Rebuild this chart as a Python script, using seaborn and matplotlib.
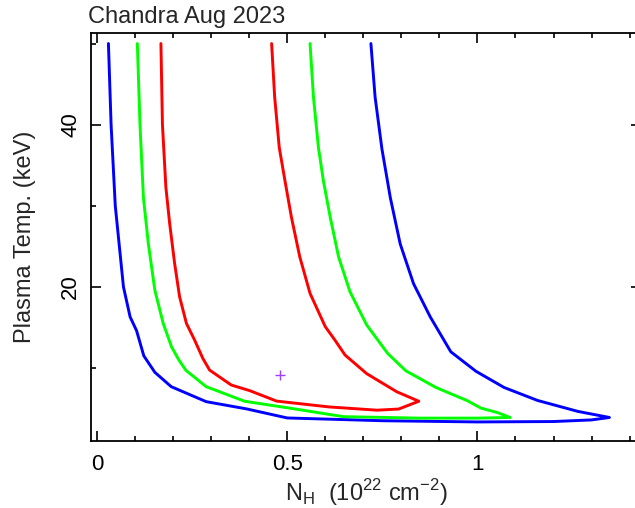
import numpy as np
import matplotlib
matplotlib.use("Agg")
from matplotlib import pyplot as plt
from matplotlib.ticker import MultipleLocator, FuncFormatter
import seaborn as sns

# contour curves (NH in 1e22 cm^-2, kT in keV)
red_x = [0.168, 0.172, 0.181, 0.191, 0.204, 0.217, 0.235, 0.257, 0.278, 0.296, 0.353, 0.402, 0.472,
         0.61, 0.736, 0.793, 0.846, 0.788, 0.709, 0.652, 0.626, 0.60, 0.56, 0.533, 0.511, 0.494,
         0.479, 0.467, 0.459]
red_y = [50, 40, 32.3, 27.8, 22.9, 18.8, 15.5, 13.4, 11.2, 9.74, 7.9, 7.2, 5.92,
         5.2, 4.8, 4.94, 5.9, 7.07, 9.3, 11.6, 13.4, 15.1, 19.2, 23.7, 28.6, 33.1,
         37.2, 43.4, 50]

green_x = [0.106, 0.113, 0.122, 0.135, 0.152, 0.174, 0.196, 0.215, 0.234, 0.287, 0.388, 0.5, 0.648,
           0.85, 1.0, 1.086, 1.053, 1.009, 0.974, 0.891, 0.812, 0.764, 0.709, 0.665, 0.635, 0.613,
           0.595, 0.582, 0.569, 0.56]
green_y = [50, 40, 31, 25.3, 19.6, 15.5, 12.6, 11.0, 9.7, 7.7, 5.9, 5.1, 4.0,
           3.82, 3.82, 3.9, 4.5, 5.06, 5.96, 7.6, 9.65, 11.8, 15.3, 19.4, 23.7, 28.6,
           33.1, 37.2, 43.4, 50]

blue_x = [0.030, 0.037, 0.048, 0.0695, 0.087, 0.104, 0.123, 0.152, 0.195, 0.287, 0.394, 0.5,
          0.75, 1.0, 1.2, 1.3, 1.347, 1.264, 1.158, 1.07, 0.996, 0.93, 0.876, 0.832, 0.797,
          0.771, 0.749, 0.731, 0.72]
blue_y = [50, 40, 30, 20, 16.3, 14.6, 11.5, 9.47, 7.7, 5.85, 4.95, 3.84,
          3.5, 3.35, 3.4, 3.6, 3.9, 4.65, 6.0, 7.6, 9.6, 12.0, 16.3, 20.4, 25.3,
          31, 37, 43.4, 50]

best_x = [0.480]
best_y = [9.1]

sns.set_style("ticks")
plt.rcParams['font.family'] = ['Liberation Sans', 'DejaVu Sans']
plt.rcParams['mathtext.fontset'] = 'custom'
plt.rcParams['mathtext.rm'] = 'Liberation Sans'

fig = plt.figure(figsize=(6.35, 5.08), dpi=100)
ax = fig.add_axes([91 / 635, 1 - 441 / 508, 550 / 635, 408 / 508])

lw = 2.1
sns.lineplot(x=blue_x, y=blue_y, sort=False, estimator=None, color='#0000ff', lw=lw, ax=ax)
sns.lineplot(x=green_x, y=green_y, sort=False, estimator=None, color='#00ff00', lw=lw, ax=ax)
sns.lineplot(x=red_x, y=red_y, sort=False, estimator=None, color='#ff0000', lw=lw, ax=ax)
sns.scatterplot(x=best_x, y=best_y, marker='+', color='#a040ff', s=45, linewidth=1.0, ax=ax)

ax.set_xlim(-0.0158, 1.43)
ax.set_ylim(1.0, 51.3)

ax.xaxis.set_major_locator(MultipleLocator(0.5))
ax.xaxis.set_minor_locator(MultipleLocator(0.1))
ax.yaxis.set_major_locator(MultipleLocator(20))
ax.yaxis.set_minor_locator(MultipleLocator(10))
ax.xaxis.set_major_formatter(FuncFormatter(lambda v, p: '%g' % v))
ax.yaxis.set_major_formatter(FuncFormatter(lambda v, p: '%g' % v))

ax.tick_params(which='both', direction='in', top=True, right=True, width=1.2, colors='black')
ax.tick_params(which='major', length=7.5)
ax.tick_params(which='minor', length=3.8)
ax.tick_params(axis='x', which='major', labelsize=16, pad=9)
ax.tick_params(axis='y', which='major', labelsize=16, pad=7, labelrotation=90)
for lab in ax.get_yticklabels():
    lab.set_verticalalignment('center')

for sp in ax.spines.values():
    sp.set_linewidth(1.3)
    sp.set_color('black')

ax.set_xlabel(r'N$_\mathregular{H}$  (10$^\mathregular{22}$ cm$^\mathregular{-2}$)', fontsize=17)
ax.set_ylabel('Plasma Temp. (keV)', fontsize=17)
ax.xaxis.set_label_coords(0.5, -0.088)
ax.yaxis.set_label_coords(-0.1, 0.5)

fig.text(88 / 635, 1 - 23 / 508, 'Chandra Aug 2023', fontsize=17, ha='left', va='baseline')

fig.savefig('out.png', dpi=100)
